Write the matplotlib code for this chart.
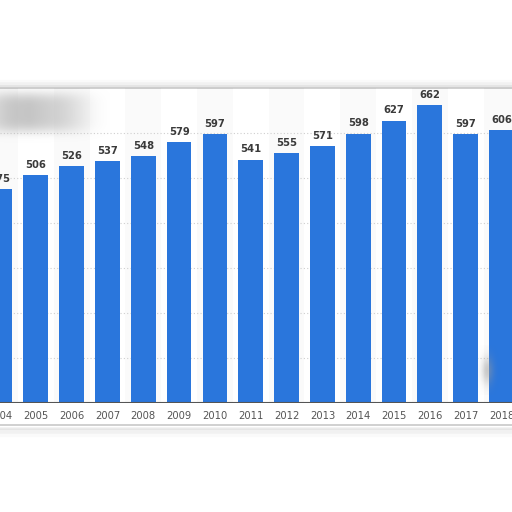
import numpy as np
import matplotlib
matplotlib.use("Agg")
import matplotlib.pyplot as plt
from matplotlib.patches import Rectangle

years = ["2004", "2005", "2006", "2007", "2008", "2009", "2010", "2011",
         "2012", "2013", "2014", "2015", "2016", "2017", "2018"]
values = [475, 506, 526, 537, 548, 579, 597, 541, 555, 571, 598, 627, 662, 597, 606]
grid_values = [100, 200, 300, 400, 500, 600]

W, H = 512, 512
fig = plt.figure(figsize=(W / 100, H / 100), dpi=100)
fig.patch.set_facecolor("white")

# card background (screenshot frame)
bg = fig.add_axes([0, 0, 1, 1], zorder=0)
bg.axis("off")
for k, a in enumerate([0.10, 0.07, 0.04]):
    bg.add_patch(Rectangle((-5, 86 - k), W + 10, 342 + 3.5 * k,
                           facecolor="none", edgecolor=(0.5, 0.5, 0.5, a),
                           lw=2 + 2 * k))
bg.add_patch(Rectangle((-5, 88), W + 10, 337, facecolor="white",
                       edgecolor="#c8c8c8", lw=1.2))
bg.set_xlim(0, W)
bg.set_ylim(H, 0)

# main axes
ax = fig.add_axes([0, (H - 403) / H, 1, (403 - 88) / H], zorder=1)
ax.patch.set_alpha(0)
n = len(years)
x = np.arange(n)
spacing = 36.1
ax.set_xlim(4 / spacing, (W + 4) / spacing)
ax.set_ylim(0, 700)

for i in range(0, n, 2):
    ax.axvspan(i - 0.5, i + 0.5, color="#000000", alpha=0.018, zorder=0, lw=0)

for g in grid_values:
    ax.axhline(g, color="#cfcfcf", lw=0.8, ls=(0, (1, 2)), zorder=1)

ax.bar(x, values, width=0.69, color="#2a76dc", zorder=2)
ax.axhline(0, color="#555555", lw=1.5, zorder=3)

for xi, v in zip(x, values):
    ax.text(xi, v + 12, str(v), ha="center", va="bottom", fontsize=7.2,
            fontweight="bold", color="#3a3a3a", zorder=4)

ax.set_xticks(x)
ax.set_xticklabels(years, fontsize=7.2, color="#555555")
ax.tick_params(axis="x", length=0, pad=6)
ax.set_yticks([])
for s in ax.spines.values():
    s.set_visible(False)

# overlay: blurred blobs
ov = fig.add_axes([0, 0, 1, 1], zorder=5)
ov.axis("off")
yy, xx = np.mgrid[0:60, 0:120]
blob = np.exp(-(((xx - 48) / 52.0) ** 4 + ((yy - 24) / 20.0) ** 4))
fade = np.clip(1.0 - (xx - 40) / 120.0, 0.45, 1.0)
rgba = np.zeros((60, 120, 4))
rgba[..., :3] = 0.70
rgba[..., 3] = blob * 0.75 * fade
ov.imshow(rgba, extent=(-10, 110, 148, 88), interpolation="bilinear")

yy2, xx2 = np.mgrid[0:50, 0:40]
b2 = np.exp(-(((xx2 - 20) / 6.0) ** 2 + ((yy2 - 25) / 14.0) ** 2))
rgba2 = np.zeros((50, 40, 4))
rgba2[..., :3] = 0.6
rgba2[..., 3] = b2 * 0.5
ov.imshow(rgba2, extent=(467, 507, 395, 345), interpolation="bilinear")
ov.set_xlim(0, W)
ov.set_ylim(H, 0)

fig.savefig("out.png", dpi=100)
